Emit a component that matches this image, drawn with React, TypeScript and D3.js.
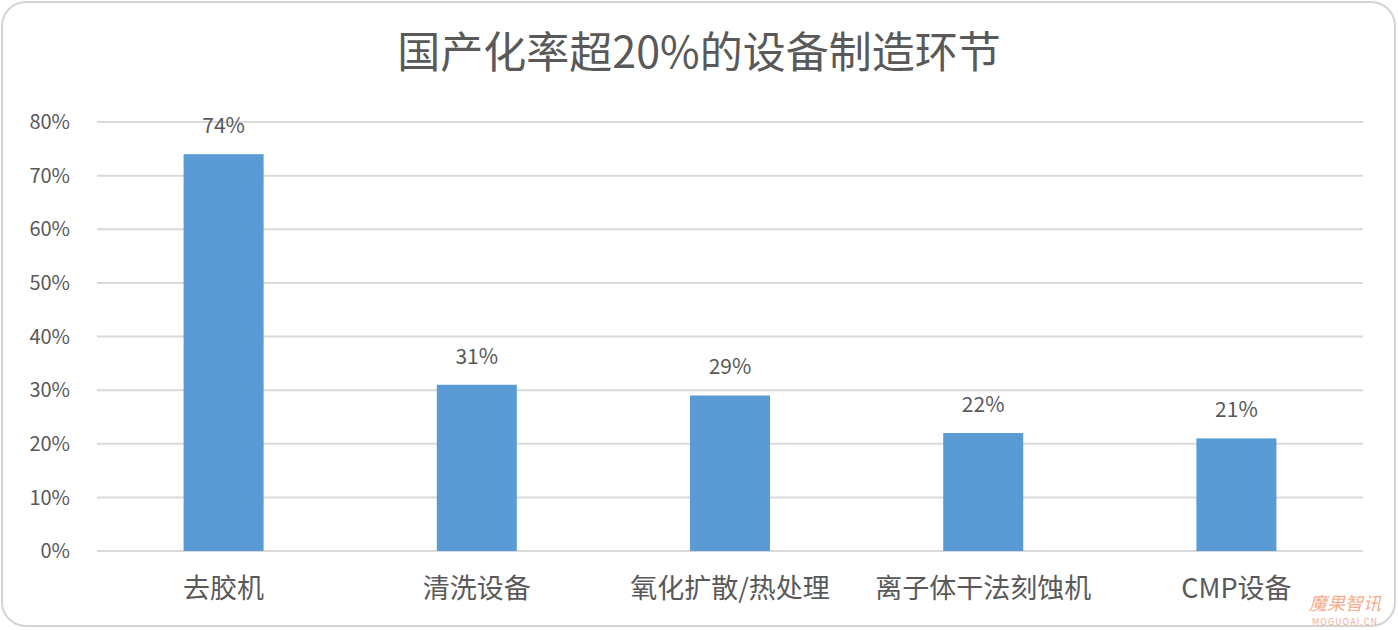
import React from "react";
import * as d3 from "d3";

const categories = ["去胶机", "清洗设备", "氧化扩散/热处理", "离子体干法刻蚀机", "CMP设备"];
const values = [74, 31, 29, 22, 21];
const yTicks = [0, 10, 20, 30, 40, 50, 60, 70, 80];
const title = "国产化率超20%的设备制造环节";

const W = 1398;
const H = 630;
const margin = { top: 122, right: 35, bottom: 79, left: 97 };
const font = "'Noto Sans CJK SC', 'Noto Sans', sans-serif";
const textColor = "#595959";

export default function App() {
  const x = d3
    .scaleBand<string>()
    .domain(categories)
    .range([margin.left, W - margin.right])
    .paddingInner(0.684)
    .paddingOuter(0.342);
  const y = d3
    .scaleLinear()
    .domain([0, 80])
    .range([H - margin.bottom, margin.top]);

  return (
    <svg
      width={W}
      height={H}
      style={{ position: "absolute", left: 0, top: 0, background: "#fff" }}
    >
      <rect
        x={2}
        y={2}
        width={W - 5}
        height={H - 6}
        rx={24}
        fill="#fff"
        stroke="#d4d4d4"
        strokeWidth={2}
      />
      <text
        x={W / 2}
        y={68}
        textAnchor="middle"
        fontFamily={font}
        fontSize={43}
        fill={textColor}
      >
        {title}
      </text>
      {yTicks.map((t) => (
        <g key={t}>
          <line
            x1={margin.left}
            x2={W - margin.right}
            y1={y(t)}
            y2={y(t)}
            stroke="#d9d9d9"
            strokeWidth={2}
          />
          <text
            x={70}
            y={y(t)}
            dy="0.36em"
            textAnchor="end"
            fontFamily={font}
            fontSize={20}
            fill={textColor}
          >
            {t}%
          </text>
        </g>
      ))}
      {categories.map((c, i) => (
        <g key={c}>
          <rect
            x={x(c)}
            y={y(values[i])}
            width={x.bandwidth()}
            height={y(0) - y(values[i])}
            fill="#5B9BD5"
          />
          <text
            x={(x(c) ?? 0) + x.bandwidth() / 2}
            y={y(values[i]) - 21}
            textAnchor="middle"
            fontFamily={font}
            fontSize={21}
            fill={textColor}
          >
            {values[i]}%
          </text>
          <text
            x={(x(c) ?? 0) + x.bandwidth() / 2}
            y={598}
            textAnchor="middle"
            fontFamily={font}
            fontSize={27}
            fill={textColor}
          >
            {c}
          </text>
        </g>
      ))}
      <text
        x={1345}
        y={610}
        textAnchor="middle"
        fontFamily={font}
        fontSize={18}
        fontStyle="italic"
        fill="#f5a07a"
        opacity={0.85}
      >
        魔果智讯
      </text>
      <text
        x={1345}
        y={625}
        textAnchor="middle"
        fontFamily={font}
        fontSize={9}
        fill="#f5a07a"
        letterSpacing={1}
        opacity={0.85}
      >
        MOGUOAI.CN
      </text>
    </svg>
  );
}
